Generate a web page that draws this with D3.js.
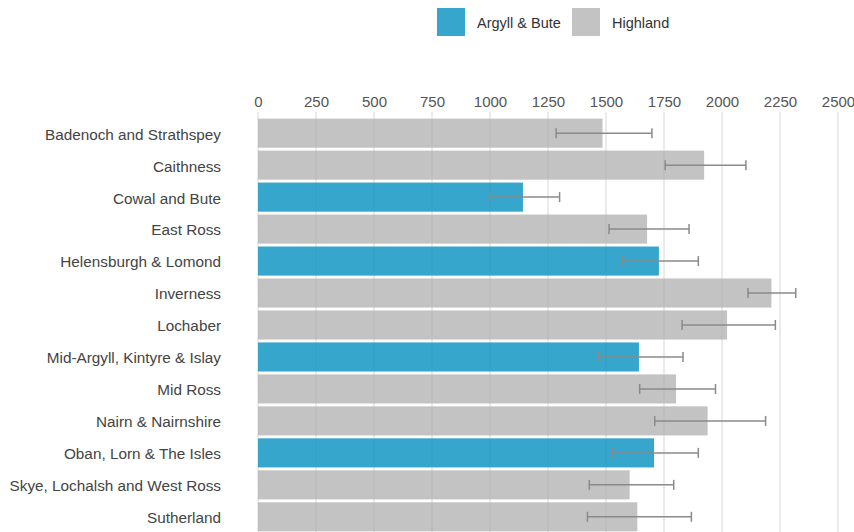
<!DOCTYPE html>
<html><head><meta charset="utf-8">
<script src="https://cdn.jsdelivr.net/npm/d3@7"></script>
<style>body{margin:0;background:#fff;}svg{display:block;font-family:"Liberation Sans",Arial,sans-serif;}</style>
</head><body>
<svg id="c" width="854" height="532"></svg>
<script>
const categories = ["Badenoch and Strathspey","Caithness","Cowal and Bute","East Ross","Helensburgh & Lomond","Inverness","Lochaber","Mid-Argyll, Kintyre & Islay","Mid Ross","Nairn & Nairnshire","Oban, Lorn & The Isles","Skye, Lochalsh and West Ross","Sutherland"];
const groups = ["Highland","Highland","Argyll & Bute","Highland","Argyll & Bute","Highland","Highland","Argyll & Bute","Highland","Highland","Argyll & Bute","Highland","Highland"];
const values = [1485,1923,1142,1677,1728,2213,2022,1642,1802,1938,1707,1602,1635];
const lower = [1285,1755,998,1513,1570,2112,1828,1468,1645,1710,1528,1428,1420];
const upper = [1698,2103,1300,1858,1898,2318,2230,1832,1972,2188,1898,1792,1868];
const xTicks = [0,250,500,750,1000,1250,1500,1750,2000,2250,2500];
const legendGroups = ["Argyll & Bute","Highland"];
const groupColors = ["#37a6cd","#c3c3c3"];

const svg = d3.select("#c");
const x = d3.scaleLinear().domain([0,2500]).range([258,838]);
const y = d3.scaleBand().domain(categories).range([118,532]).paddingInner(0.09).paddingOuter(0.02);
const color = d3.scaleOrdinal().domain(legendGroups).range(groupColors);

// gridlines under bars
svg.append("g").selectAll("line").data(xTicks).join("line")
  .attr("x1",d=>x(d)).attr("x2",d=>x(d)).attr("y1",112).attr("y2",532)
  .attr("stroke","#e8e8e8").attr("stroke-width",1.2);

// top axis
const ax = svg.append("g").attr("transform","translate(0,107)")
  .call(d3.axisTop(x).tickValues(xTicks).tickSize(0).tickPadding(0).tickFormat(d3.format("d")));
ax.select(".domain").remove();
ax.selectAll("text").attr("font-size",15).attr("fill","#555").attr("font-family","'Liberation Sans',Arial,sans-serif");

// bars
const data = categories.map((c,i)=>({c,g:groups[i],v:values[i],lo:lower[i],hi:upper[i]}));
svg.append("g").selectAll("rect").data(data).join("rect")
  .attr("x",x(0)).attr("y",d=>y(d.c)).attr("width",d=>x(d.v)-x(0)).attr("height",y.bandwidth())
  .attr("fill",d=>color(d.g));

// faint gridline overlay on bars
svg.append("g").selectAll("line").data(xTicks).join("line")
  .attr("x1",d=>x(d)).attr("x2",d=>x(d)).attr("y1",112).attr("y2",532)
  .attr("stroke","#000").attr("stroke-opacity",0.035).attr("stroke-width",1.5);

// error bars
const eb = svg.append("g").attr("stroke","#8a8a8a").attr("stroke-width",1.5);
data.forEach(d=>{
  const cy = y(d.c)+y.bandwidth()/2;
  eb.append("line").attr("x1",x(d.lo)).attr("x2",x(d.hi)).attr("y1",cy).attr("y2",cy);
  eb.append("line").attr("x1",x(d.lo)).attr("x2",x(d.lo)).attr("y1",cy-5).attr("y2",cy+5);
  eb.append("line").attr("x1",x(d.hi)).attr("x2",x(d.hi)).attr("y1",cy-5).attr("y2",cy+5);
});

// category labels
const ay = svg.append("g").attr("transform","translate(221,1.5)")
  .call(d3.axisLeft(y).tickSize(0).tickPadding(0));
ay.select(".domain").remove();
ay.selectAll("text").attr("font-size",15.3).attr("fill","#444").attr("font-family","'Liberation Sans',Arial,sans-serif");

// legend
const lg = svg.append("g");
const lx = [437,572];
legendGroups.forEach((g,i)=>{
  lg.append("rect").attr("x",lx[i]).attr("y",8).attr("width",28).attr("height",28).attr("fill",color(g));
  lg.append("text").attr("x",lx[i]+40).attr("y",28).attr("font-size",14.5).attr("fill","#333").text(g);
});
</script>
</body></html>
